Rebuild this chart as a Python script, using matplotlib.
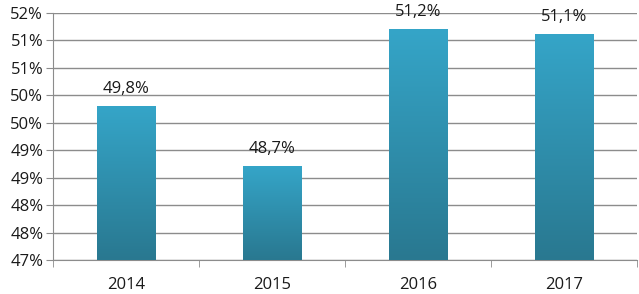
import numpy as np
import matplotlib
matplotlib.use('Agg')
import matplotlib.pyplot as plt
from matplotlib.colors import LinearSegmentedColormap

# данные
years = ['2014', '2015', '2016', '2017']
values = [49.8, 48.7, 51.2, 51.1]
y_ticks = [47.0, 47.5, 48.0, 48.5, 49.0, 49.5, 50.0, 50.5, 51.0, 51.5]
y_labels = ['47%', '48%', '48%', '49%', '49%', '50%', '50%', '51%', '51%', '52%']

plt.rcParams['font.family'] = ['Open Sans', 'DejaVu Sans']

fig = plt.figure(figsize=(6.39, 2.94), dpi=100)
ax = fig.add_axes([53 / 639, 1 - 260 / 294, (637 - 53) / 639, (260 - 13) / 294])

x = np.arange(len(years))
bars = ax.bar(x, values, width=0.4, bottom=0, color='none', zorder=3)

# градиент на столбцах
cmap = LinearSegmentedColormap.from_list('bar', ['#297890', '#35a5c8'])
grad = np.linspace(0, 1, 256).reshape(-1, 1)
for b in bars:
    x0 = b.get_x()
    ax.imshow(grad, cmap=cmap, origin='lower', aspect='auto', zorder=3,
              extent=[x0, x0 + b.get_width(), y_ticks[0], b.get_height()])

for xi, v in zip(x, values):
    ax.annotate(('%.1f%%' % v).replace('.', ','), (xi, v), xytext=(0, 7),
                textcoords='offset points', ha='center', va='bottom',
                fontsize=12, color='#1a1a1a')

ax.set_xlim(-0.5, len(years) - 0.5)
ax.set_ylim(y_ticks[0], y_ticks[-1])
ax.set_yticks(y_ticks)
ax.set_yticklabels(y_labels, fontsize=12, color='#1a1a1a')
ax.set_xticks(x)
ax.set_xticklabels(years, fontsize=12, color='#1a1a1a')
ax.set_xticks(np.arange(len(years) + 1) - 0.5, minor=True)
ax.tick_params(axis='x', which='major', length=0, pad=12)
ax.tick_params(axis='x', which='minor', length=5, color='#8c8c8c')
ax.tick_params(axis='y', length=5, color='#8c8c8c', pad=2)

ax.grid(axis='y', color='#8c8c8c', linewidth=1)
ax.set_axisbelow(True)
for s in ['top', 'right']:
    ax.spines[s].set_visible(False)
ax.spines['left'].set_color('#8c8c8c')
ax.spines['bottom'].set_color('#8c8c8c')

plt.savefig('out.png', dpi=100)
